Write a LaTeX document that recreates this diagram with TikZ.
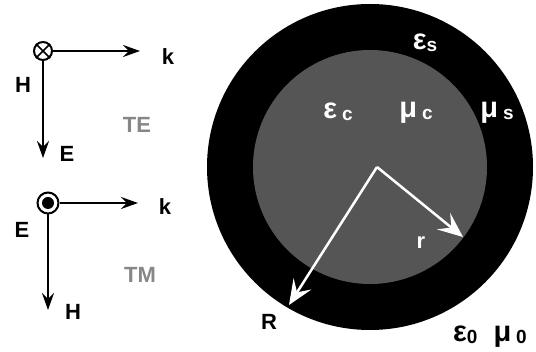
\documentclass[tikz,border=0pt]{standalone}
\usepackage{fontspec}
\setmainfont{Liberation Sans}
\usetikzlibrary{arrows.meta}
\definecolor{coregray}{RGB}{85,85,85}
\definecolor{labgray}{RGB}{135,135,135}
\newcommand{\bigf}{\fontsize{22}{22}\selectfont\bfseries}
\newcommand{\grf}{\fontsize{29}{29}\selectfont\bfseries}
\newcommand{\subf}{\fontsize{19}{19}\selectfont\bfseries}
\newcommand{\subx}[1]{\raisebox{-1.5pt}{\subf #1}}
\begin{document}
\begin{tikzpicture}[x=1pt,y=-1pt,
  lbl/.style={font=\bigf,text=black,inner sep=0pt},
  glbl/.style={font=\bigf,text=labgray,inner sep=0pt},
  wlbl/.style={font=\grf,text=white,inner sep=0pt},
  blbl/.style={font=\grf,text=black,inner sep=0pt},
  vec/.style={line width=2.5pt,-{Stealth[length=17pt,width=12pt,inset=6pt]}},
  wvec/.style={white,line width=2.5pt,-{Stealth[length=25pt,width=21pt,inset=10pt]}},
  ring/.style={circle,draw=black,line width=2pt,fill=white,inner sep=0pt}
]
\useasboundingbox (0,0) rectangle (536,352);
\fill[white] (0,0) rectangle (536,352);

% sphere
\fill[black] (370,167) circle [radius=163pt];
\fill[coregray] (370,167) circle [radius=117pt];

\coordinate (o) at (377,167);
\coordinate (rt) at (463,237);
\coordinate (Rt) at (289,305);
\draw[wvec] (o) -- (rt);
\draw[wvec] (o) -- (Rt);

\node[wlbl] (es) at (425,43) {ε\subx{s}};
\node[wlbl] (ec) at (338,112) {ε\,\subx{c}};
\node[wlbl] (mc) at (416,113) {μ\,\subx{c}};
\node[wlbl] (ms) at (497,113) {μ\,\subx{s}};
\node[font=\bigf,text=white,inner sep=0pt] (r) at (421,243) {r};
\node[lbl] (R) at (269,322) {R};
\node[blbl] (e0m0) at (490,337) {ε\subx{0}\ \ μ\,\subx{0}};

% TE
\node[ring,minimum size=18pt] (te) at (43,51) {};
\draw[line width=1.6pt] (te.north east) -- (te.south west) (te.north west) -- (te.south east);
\coordinate (tek) at (140,51);
\coordinate (tee) at (43,158);
\draw[vec] (te.east) -- (tek);
\draw[vec] (te.south) -- (tee);
\node[lbl] (k1) at (168,57) {k};
\node[lbl] (H1) at (23,85) {H};
\node[lbl] (E1) at (67,154) {E};
\node[glbl] (TE) at (137,125) {TE};

% TM
\node[ring,minimum size=21pt] (tm) at (48,203) {};
\fill[black] (tm.center) circle [radius=6pt];
\coordinate (tmk) at (138,203);
\coordinate (tmh) at (48,310);
\draw[vec] (tm.east) -- (tmk);
\draw[vec] (tm.south) -- (tmh);
\node[lbl] (k2) at (165,207) {k};
\node[lbl] (E2) at (22,230) {E};
\node[lbl] (H2) at (73,312) {H};
\node[glbl] (TM) at (140,275) {TM};
\end{tikzpicture}
\end{document}
